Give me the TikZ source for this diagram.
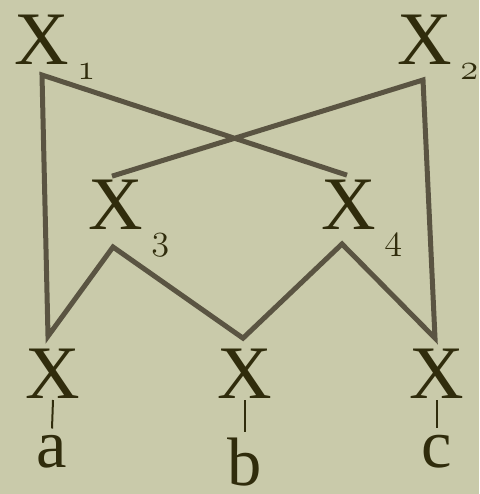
\documentclass[tikz,border=0pt]{standalone}
\usepackage{xcolor}
\usepackage{fontspec}
\setmainfont{Liberation Serif}
\usepackage{tikz}
\usetikzlibrary{positioning,calc}

\definecolor{paper}{HTML}{C9CAAA}
\definecolor{ink}{HTML}{302C0C}
\definecolor{wire}{HTML}{5A5442}

% old-style index set beside the X, without changing the node's box
\newcommand{\osub}[2][0.3cm]{\rlap{\hspace{0.16cm}\raisebox{-#1}[0pt][0pt]{\fontsize{20}{20}\usefont{OML}{cmm}{m}{it}#2}}}

\begin{document}
\begin{tikzpicture}[var/.style={text=ink, font=\fontsize{43}{43}\selectfont, inner sep=0pt, anchor=base},
    tag/.style={text=ink, font=\fontsize{39}{39}\selectfont, inner sep=0pt, anchor=base},
    link/.style={draw=wire, line width=1mm, line join=miter},
    leaf/.style={draw=ink, line width=0.4mm}]
    \fill[paper] (0,0) rectangle (9.58,-9.88);
    \useasboundingbox (0,0) rectangle (9.58,-9.88);

    \node [var] (x1) at (0.84,-1.30) {X\osub{1}};
    \node [var] (x2) at (8.50,-1.30) {X\osub{2}};
    \node [var] (x3) at (2.32,-4.60) {X\osub[0.4cm]{3}};
    \node [var] (x4) at (6.98,-4.60) {X\osub[0.4cm]{4}};
    \node [var] (xa) at (1.06,-7.96) {X};
    \node [var] (xb) at (4.90,-7.96) {X};
    \node [var] (xc) at (8.74,-7.96) {X};
    \node [tag] (a) at (1.04,-9.34) {a};
    \node [tag] (b) at (4.90,-9.70) {b};
    \node [tag] (c) at (8.74,-9.34) {c};

    \draw [link] ([shift={(-0.4mm,1mm)}]x4.north) -- ([yshift=-2mm]x1.base)
        -- ([shift={(-1mm,2.4mm)}]xa.north) -- ([shift={(-0.6mm,-3.4mm)}]x3.base)
        -- ([shift={(-0.4mm,2mm)}]xb.north) -- ([shift={(-1.4mm,-2.8mm)}]x4.base)
        -- ([shift={(-0.4mm,2mm)}]xc.north) -- ([shift={(-0.4mm,-3mm)}]x2.base)
        -- ([shift={(-0.8mm,0.8mm)}]x3.north);

    \draw [leaf] ([yshift=-0.4mm]xa.base) -- ([yshift=1.2mm]a.north);
    \draw [leaf] ([yshift=-0.4mm]xb.base) -- ([yshift=1mm]b.north);
    \draw [leaf] ([yshift=-0.4mm]xc.base) -- ([yshift=1.2mm]c.north);
\end{tikzpicture}
\end{document}
